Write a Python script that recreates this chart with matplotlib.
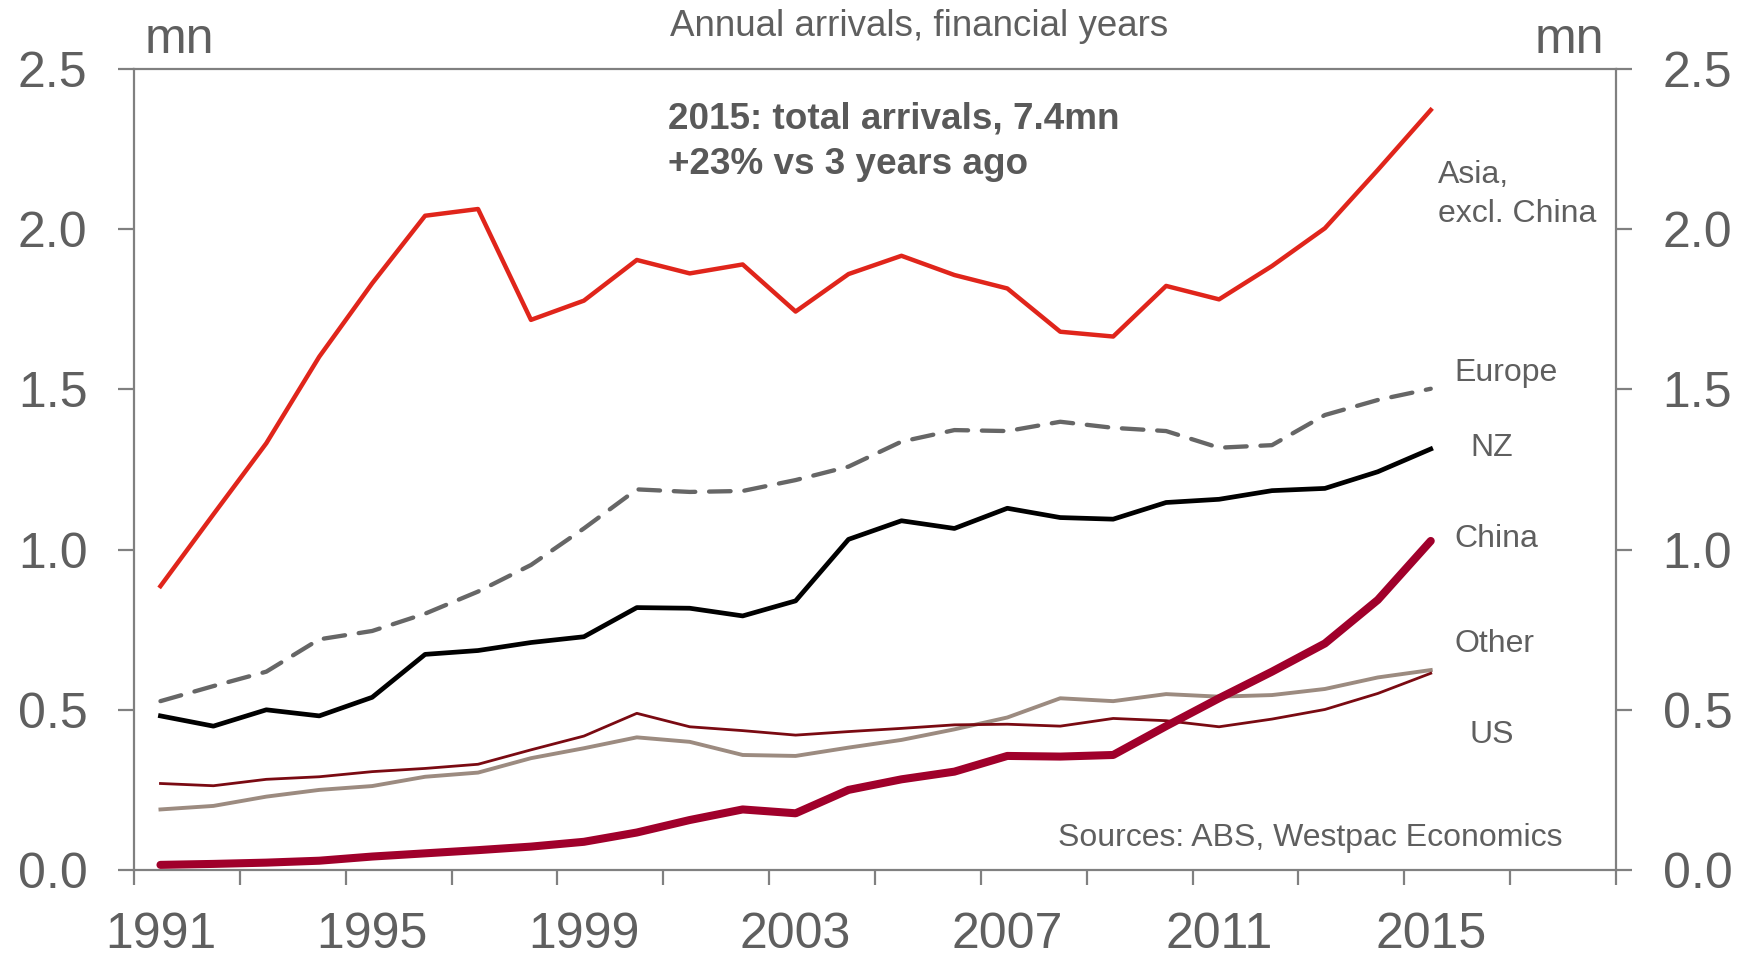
import matplotlib
matplotlib.use("Agg")
import matplotlib.pyplot as plt
import numpy as np

plt.rcParams['font.family'] = ['Liberation Sans', 'DejaVu Sans']

years = list(range(1991, 2016))
asia_excl_china = [0.886, 1.110, 1.332, 1.602, 1.831, 2.042, 2.063, 1.717, 1.777, 1.904,
                   1.862, 1.890, 1.743, 1.860, 1.917, 1.857, 1.815, 1.680, 1.665, 1.823,
                   1.781, 1.885, 2.003, 2.185, 2.372]
europe = [0.527, 0.574, 0.619, 0.720, 0.746, 0.800, 0.869, 0.952, 1.066, 1.188,
          1.180, 1.183, 1.217, 1.259, 1.337, 1.373, 1.370, 1.399, 1.380, 1.370,
          1.318, 1.326, 1.420, 1.467, 1.502]
nz = [0.481, 0.449, 0.500, 0.481, 0.539, 0.673, 0.685, 0.710, 0.728, 0.819,
      0.817, 0.793, 0.840, 1.032, 1.090, 1.066, 1.129, 1.100, 1.095, 1.147,
      1.157, 1.184, 1.191, 1.243, 1.314]
china = [0.016, 0.019, 0.023, 0.029, 0.042, 0.052, 0.062, 0.073, 0.088, 0.117,
         0.156, 0.189, 0.177, 0.250, 0.283, 0.307, 0.356, 0.354, 0.359, 0.449,
         0.536, 0.619, 0.707, 0.843, 1.027]
other = [0.189, 0.200, 0.229, 0.250, 0.262, 0.291, 0.304, 0.349, 0.380, 0.414,
         0.400, 0.359, 0.356, 0.382, 0.406, 0.439, 0.476, 0.536, 0.527, 0.549,
         0.541, 0.546, 0.565, 0.601, 0.624]
us = [0.270, 0.263, 0.283, 0.291, 0.307, 0.317, 0.330, 0.375, 0.418, 0.489,
      0.447, 0.435, 0.421, 0.432, 0.442, 0.453, 0.455, 0.449, 0.473, 0.466,
      0.447, 0.471, 0.501, 0.551, 0.614]

y_ticks = [0.0, 0.5, 1.0, 1.5, 2.0, 2.5]
x_label_years = [1991, 1995, 1999, 2003, 2007, 2011, 2015]

grey_text = '#5f5f5f'
spine_c = '#808080'

fig = plt.figure(figsize=(17.39, 9.59), dpi=100)
ax = fig.add_axes([134/1739, 1-870/959, (1616-134)/1739, (870-69)/959])

ax.plot(years, other, color='#9c8b80', lw=2.8, zorder=2)
ax.plot(years, us, color='#7a0a12', lw=2.0, zorder=3)
ax.plot(years, china, color='#a0002b', lw=5.8, solid_capstyle='round', zorder=4)
ax.plot(years, nz, color='#000000', lw=3.4, zorder=3)
ax.plot(years, europe, color='#666666', lw=3.1, dashes=(5, 3.2), dash_capstyle='round', zorder=3)
ax.plot(years, asia_excl_china, color='#e0251b', lw=3.2, zorder=3)

ax.set_xlim(1990.5, 2018.5)
ax.set_ylim(0, 2.5)
ax.set_yticks(y_ticks)
ax.set_yticklabels([f'{v:.1f}' for v in y_ticks])
ax.set_xticks(np.arange(1990.5, 2018.6, 2))
ax.set_xticklabels([])
ax.set_xticks(x_label_years, minor=True)
ax.set_xticklabels([str(y) for y in x_label_years], minor=True)

for s in ax.spines.values():
    s.set_color(spine_c)
    s.set_linewidth(1.6)

ax.tick_params(axis='y', which='major', direction='out', length=11.5, width=1.6, color=spine_c,
               labelsize=36, labelcolor=grey_text, pad=22, left=True, right=True,
               labelleft=True, labelright=True)
ax.tick_params(axis='x', which='major', direction='out', length=11, width=1.6, color=spine_c)
ax.tick_params(axis='x', which='minor', length=0, labelsize=36, labelcolor=grey_text, pad=30)

fig.text(145/1739, 1-53/959, 'mn', fontsize=36, color=grey_text, ha='left', va='baseline')
fig.text(1604/1739, 1-53/959, 'mn', fontsize=36, color=grey_text, ha='right', va='baseline')
fig.text(919/1739, 1-27/959, 'Annual arrivals, financial years', fontsize=26.5,
         color=grey_text, ha='center', va='center')

fig.text(668/1739, 1-119/959, '2015: total arrivals, 7.4mn',
         fontsize=26.6, fontweight='bold', color='#595959', ha='left', va='center')
fig.text(668/1739, 1-164/959, '+23% vs 3 years ago',
         fontsize=26.6, fontweight='bold', color='#595959', ha='left', va='center')

lab_fs = 23
def flabel(x, y, s, ha='left'):
    fig.text(x/1739, 1-y/959, s, fontsize=lab_fs, color=grey_text, ha=ha, va='center')

flabel(1438, 175, 'Asia,')
flabel(1438, 214, 'excl. China')
flabel(1454, 373, 'Europe')
flabel(1470, 448, 'NZ')
flabel(1454, 539, 'China')
flabel(1454, 644, 'Other')
flabel(1470, 735, 'US')
flabel(1562, 838, 'Sources: ABS, Westpac Economics', ha='right')

fig.savefig('out.png', dpi=100)
